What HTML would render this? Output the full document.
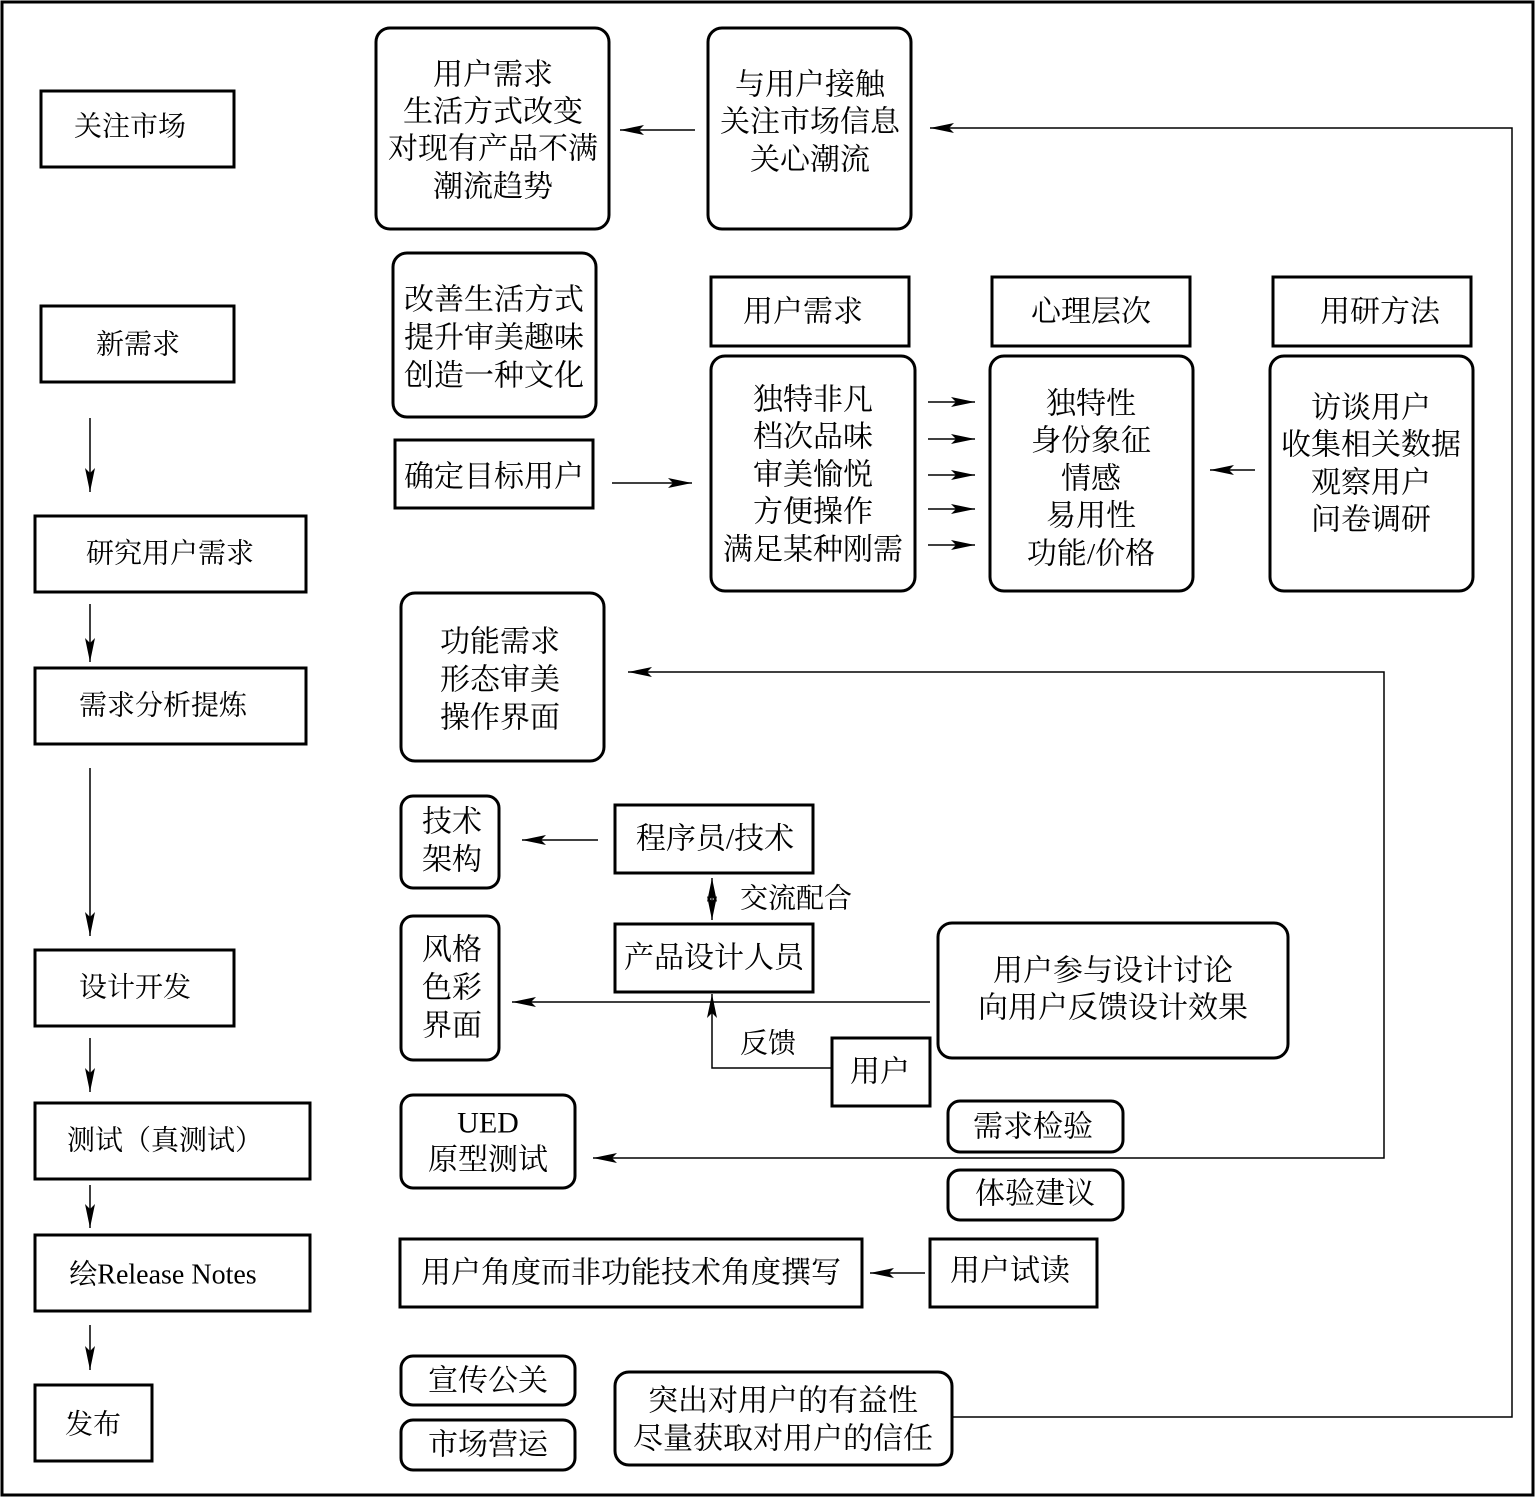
<!DOCTYPE html>
<html><head><meta charset="utf-8"><style>
html,body{margin:0;padding:0;background:#fff}
svg{display:block}
text{font-family:"Liberation Serif","Noto Serif CJK SC",serif;fill:#000;text-anchor:middle;dominant-baseline:central}
</style></head><body>
<svg width="1536" height="1498" viewBox="0 0 1536 1498" xmlns="http://www.w3.org/2000/svg">
<defs>
<marker id="a" viewBox="0 0 10 10" refX="10" refY="5" markerWidth="9" markerHeight="9" orient="auto-start-reverse" markerUnits="userSpaceOnUse"><path d="M0,1 L10,5 L0,9 Z" fill="#000"/></marker>
<marker id="b" viewBox="0 0 24 12" refX="24" refY="6" markerWidth="24" markerHeight="12" orient="auto-start-reverse" markerUnits="userSpaceOnUse"><path d="M0,1 L24,6 L0,11 L5,6 Z" fill="#000"/></marker>
</defs>
<rect x="2" y="2" width="1531" height="1493" fill="none" stroke="#000" stroke-width="3"/>
<g fill="none" stroke="#000" stroke-width="3">
<rect x="41" y="91" width="193" height="76"/>
<rect x="41" y="306" width="193" height="76"/>
<rect x="35" y="516" width="271" height="76"/>
<rect x="35" y="668" width="271" height="76"/>
<rect x="35" y="950" width="199" height="76"/>
<rect x="35" y="1103" width="275" height="76"/>
<rect x="35" y="1235" width="275" height="76"/>
<rect x="35" y="1385" width="117" height="76"/>
<rect x="376" y="28" width="233" height="201" rx="14"/>
<rect x="708" y="28" width="203" height="201" rx="14"/>
<rect x="393" y="253" width="203" height="164" rx="14"/>
<rect x="395" y="440" width="198" height="68"/>
<rect x="711" y="277" width="198" height="69"/>
<rect x="992" y="277" width="198" height="69"/>
<rect x="1273" y="277" width="198" height="69"/>
<rect x="711" y="356" width="204" height="235" rx="14"/>
<rect x="990" y="356" width="203" height="235" rx="14"/>
<rect x="1270" y="356" width="203" height="235" rx="14"/>
<rect x="401" y="593" width="203" height="168" rx="14"/>
<rect x="401" y="796" width="98" height="92" rx="12"/>
<rect x="615" y="805" width="198" height="68"/>
<rect x="615" y="924" width="198" height="68"/>
<rect x="401" y="916" width="98" height="144" rx="12"/>
<rect x="938" y="923" width="350" height="135" rx="14"/>
<rect x="832" y="1038" width="98" height="68"/>
<rect x="948" y="1101" width="175" height="51" rx="12"/>
<rect x="948" y="1170" width="175" height="50" rx="12"/>
<rect x="401" y="1095" width="174" height="93" rx="12"/>
<rect x="400" y="1239" width="462" height="68"/>
<rect x="930" y="1239" width="167" height="68"/>
<rect x="401" y="1356" width="174" height="49" rx="12"/>
<rect x="401" y="1420" width="174" height="50" rx="12"/>
<rect x="615" y="1372" width="337" height="93" rx="14"/>
</g>
<g fill="none" stroke="#000" stroke-width="1.5">
<line x1="90" y1="418" x2="90" y2="492" marker-end="url(#b)"/>
<line x1="90" y1="604" x2="90" y2="662" marker-end="url(#b)"/>
<line x1="90" y1="768" x2="90" y2="936" marker-end="url(#b)"/>
<line x1="90" y1="1038" x2="90" y2="1092" marker-end="url(#b)"/>
<line x1="90" y1="1185" x2="90" y2="1228" marker-end="url(#b)"/>
<line x1="90" y1="1325" x2="90" y2="1370" marker-end="url(#b)"/>
<line x1="695" y1="130" x2="620" y2="130" marker-end="url(#b)"/>
<polyline points="953,1417 1512,1417 1512,128 930,128" marker-end="url(#b)"/>
<line x1="612" y1="483" x2="692" y2="483" marker-end="url(#b)"/>
<line x1="928" y1="402" x2="975" y2="402" marker-end="url(#b)"/>
<line x1="928" y1="439" x2="975" y2="439" marker-end="url(#b)"/>
<line x1="928" y1="475" x2="975" y2="475" marker-end="url(#b)"/>
<line x1="928" y1="509" x2="975" y2="509" marker-end="url(#b)"/>
<line x1="928" y1="545" x2="975" y2="545" marker-end="url(#b)"/>
<line x1="1255" y1="470" x2="1210" y2="470" marker-end="url(#b)"/>
<polyline points="593,1158 1384,1158 1384,672 628,672" marker-end="url(#b)" marker-start="url(#b)"/>
<line x1="598" y1="840" x2="522" y2="840" marker-end="url(#b)"/>
<line x1="712" y1="878" x2="712" y2="920" marker-end="url(#b)" marker-start="url(#b)"/>
<line x1="930" y1="1002" x2="512" y2="1002" marker-end="url(#b)"/>
<polyline points="832,1068 712,1068 712,994" marker-end="url(#b)"/>
<line x1="925" y1="1273" x2="870" y2="1273" marker-end="url(#b)"/>
</g>
<g font-size="28">
<text x="130" y="127">关注市场</text>
<text x="138" y="345">新需求</text>
<text x="170" y="554">研究用户需求</text>
<text x="163" y="706">需求分析提炼</text>
<text x="135" y="988">设计开发</text>
<text x="165" y="1141">测试（真测试）</text>
<text x="163" y="1275">绘Release Notes</text>
<text x="93" y="1425">发布</text>
</g>
<g font-size="30">
<text x="493" y="75">用户需求</text><text x="493" y="112">生活方式改变</text><text x="493" y="149">对现有产品不满</text><text x="493" y="187">潮流趋势</text>
<text x="810" y="85">与用户接触</text><text x="810" y="122">关注市场信息</text><text x="810" y="160">关心潮流</text>
<text x="494" y="300">改善生活方式</text><text x="494" y="338">提升审美趣味</text><text x="494" y="376">创造一种文化</text>
<text x="494" y="477">确定目标用户</text>
<text x="803" y="312">用户需求</text><text x="1091" y="312">心理层次</text><text x="1380" y="312">用研方法</text>
<text x="813" y="400">独特非凡</text><text x="813" y="437">档次品味</text><text x="813" y="475">审美愉悦</text><text x="813" y="512">方便操作</text><text x="813" y="550">满足某种刚需</text>
<text x="1091" y="404">独特性</text><text x="1091" y="441">身份象征</text><text x="1091" y="479">情感</text><text x="1091" y="516">易用性</text><text x="1091" y="554">功能/价格</text>
<text x="1371" y="408">访谈用户</text><text x="1371" y="445">收集相关数据</text><text x="1371" y="483">观察用户</text><text x="1371" y="520">问卷调研</text>
<text x="500" y="642">功能需求</text><text x="500" y="680">形态审美</text><text x="500" y="718">操作界面</text>
<text x="452" y="822">技术</text><text x="452" y="860">架构</text>
<text x="715" y="839">程序员/技术</text>
<text x="796" y="899" font-size="28">交流配合</text>
<text x="714" y="958">产品设计人员</text>
<text x="452" y="950">风格</text><text x="452" y="988">色彩</text><text x="452" y="1026">界面</text>
<text x="1113" y="971">用户参与设计讨论</text><text x="1113" y="1008">向用户反馈设计效果</text>
<text x="768" y="1044" font-size="28">反馈</text>
<text x="880" y="1072">用户</text>
<text x="1033" y="1127">需求检验</text><text x="1035" y="1194">体验建议</text>
<text x="488" y="1123">UED</text><text x="488" y="1160">原型测试</text>
<text x="631" y="1273">用户角度而非功能技术角度撰写</text>
<text x="1010" y="1271">用户试读</text>
<text x="488" y="1381">宣传公关</text><text x="488" y="1445">市场营运</text>
<text x="783" y="1401">突出对用户的有益性</text><text x="783" y="1439">尽量获取对用户的信任</text>
</g>
</svg>
</body></html>
